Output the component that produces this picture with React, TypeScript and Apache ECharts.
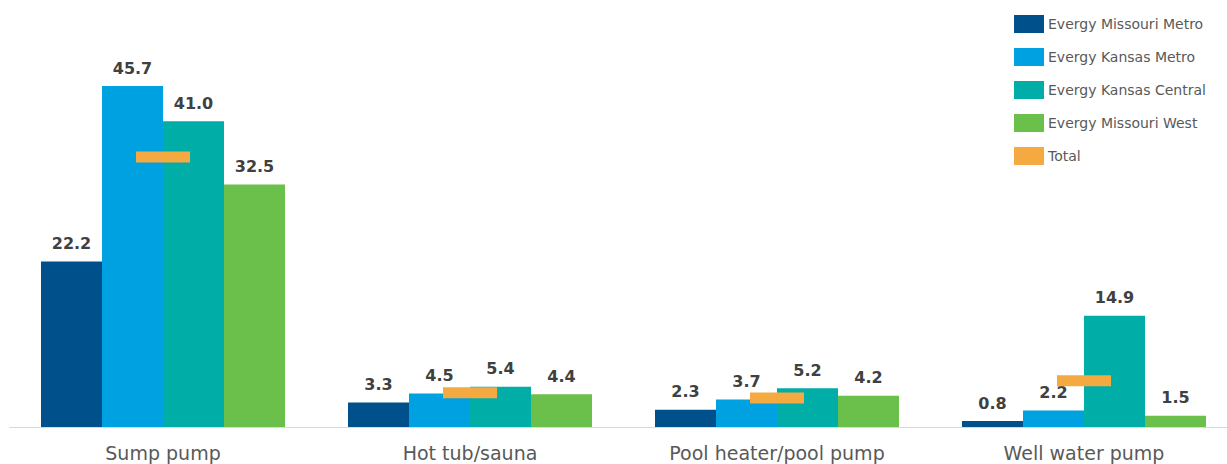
import React, { useEffect, useRef } from "react";
import * as echarts from "echarts";

const categories = ["Sump pump", "Hot tub/sauna", "Pool heater/pool pump", "Well water pump"];
const missouriMetro = [22.2, 3.3, 2.3, 0.8];
const kansasMetro = [45.7, 4.5, 3.7, 2.2];
const kansasCentral = [41.0, 5.4, 5.2, 14.9];
const missouriWest = [32.5, 4.4, 4.2, 1.5];
const total = [36.2, 4.6, 3.9, 6.2];

const seriesNames = [
  "Evergy Missouri Metro",
  "Evergy Kansas Metro",
  "Evergy Kansas Central",
  "Evergy Missouri West",
];
const colors = ["#00508C", "#00A1E0", "#00ADA7", "#6BBF4B"];
const totalColor = "#F5A941";
const FONT = "DejaVu Sans, Verdana, sans-serif";

export default function App() {
  const ref = useRef<HTMLDivElement>(null);
  useEffect(() => {
    if (!ref.current) return;
    const chart = echarts.init(ref.current, undefined, { renderer: "svg" });
    const barData = [missouriMetro, kansasMetro, kansasCentral, missouriWest];
    const labelStyle = {
      show: true,
      position: "top" as const,
      distance: 10,
      fontFamily: FONT,
      fontWeight: "bold" as const,
      fontSize: 16,
      color: "#404040",
      formatter: (p: any) => Number(p.value).toFixed(1),
    };
    chart.setOption({
      animation: false,
      textStyle: { fontFamily: FONT },
      grid: { left: 9.5, width: 1228, top: 54, bottom: 37, containLabel: false },
      legend: {
        orient: "vertical",
        left: 1014,
        top: 15,
        padding: 0,
        itemWidth: 30,
        itemHeight: 18,
        itemGap: 15,
        align: "left",
        icon: "rect",
        textStyle: { fontFamily: FONT, fontSize: 14, color: "#595959", padding: [0, 0, 6, -1] },
        data: [...seriesNames, "Total"],
      },
      xAxis: {
        type: "category",
        data: categories,
        axisLine: { show: true, lineStyle: { color: "#D9D9D9", width: 1 } },
        axisTick: { show: false },
        axisLabel: { fontFamily: FONT, fontSize: 19, color: "#595959", margin: 16 },
      },
      yAxis: {
        type: "value",
        min: 0,
        max: 50,
        show: false,
        splitLine: { show: false },
      },
      series: [
        ...barData.map((d, i) => ({
          name: seriesNames[i],
          type: "bar",
          data: d,
          barWidth: 61,
          barGap: "0%",
          itemStyle: { color: colors[i] },
          label: labelStyle,
        })),
        {
          name: "Total",
          type: "scatter",
          data: total,
          symbol: "rect",
          symbolSize: [54, 11],
          itemStyle: { color: totalColor, opacity: 1 },
          z: 5,
        },
      ],
    });
    return () => chart.dispose();
  }, []);
  return (
    <div
      style={{ position: "absolute", left: 0, top: 0, width: 1227, height: 464, overflow: "hidden", background: "#fff" }}
    >
      <div ref={ref} style={{ position: "absolute", left: 0, top: 0, width: 1240, height: 464 }} />
    </div>
  );
}
